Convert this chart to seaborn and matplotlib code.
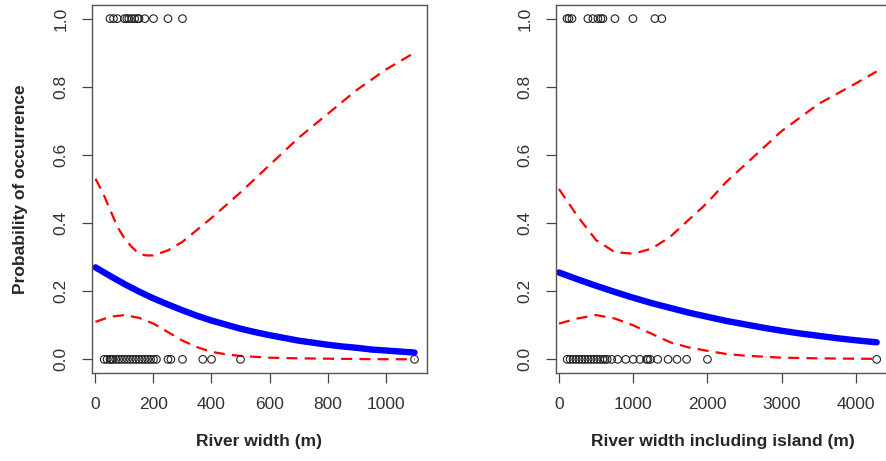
import matplotlib
matplotlib.use("Agg")
import matplotlib.pyplot as plt
import seaborn as sns
import pandas as pd

# ---------------- data ----------------
# Left panel: river width (m)
w_presence = [50, 62, 75, 100, 108, 115, 125, 135, 145, 150, 170, 200, 250, 300]
w_absence = [30, 40, 50, 55, 60, 70, 80, 90, 100, 110, 120, 130, 140, 150, 160,
             170, 180, 190, 200, 210, 250, 260, 300, 370, 400, 500, 1100]

w_fit_x = [0, 50, 100, 150, 200, 250, 300, 350, 400, 450, 500, 550, 600, 650,
           700, 750, 800, 850, 900, 950, 1000, 1050, 1100]
w_fit_y = [0.270, 0.245, 0.221, 0.199, 0.179, 0.161, 0.144, 0.128, 0.114, 0.102,
           0.090, 0.080, 0.071, 0.063, 0.055, 0.049, 0.043, 0.038, 0.034, 0.029,
           0.026, 0.023, 0.020]

w_up_x = [0, 25, 50, 75, 100, 125, 150, 175, 200, 250, 300, 350, 400, 500,
          600, 700, 800, 900, 1000, 1100]
w_up_y = [0.53, 0.49, 0.44, 0.39, 0.355, 0.33, 0.31, 0.305, 0.305, 0.32, 0.345,
          0.38, 0.415, 0.49, 0.57, 0.65, 0.72, 0.79, 0.85, 0.90]

w_lo_x = [0, 50, 100, 150, 200, 250, 300, 350, 400, 450, 500, 600, 700, 800,
          900, 1000, 1100]
w_lo_y = [0.11, 0.125, 0.13, 0.122, 0.105, 0.08, 0.055, 0.036, 0.022, 0.015,
          0.010, 0.005, 0.003, 0.002, 0.001, 0.0005, 0.0003]

# Right panel: river width including island (m)
i_presence = [108, 135, 175, 390, 457, 525, 565, 592, 754, 996, 1292, 1386]
i_absence = [110, 150, 190, 230, 270, 310, 350, 390, 430, 470, 510, 550, 590,
             620, 650, 710, 790, 900, 1000, 1090, 1180, 1200, 1230, 1330, 1470,
             1590, 1720, 2000, 4280]

i_fit_x = [0, 250, 500, 750, 1000, 1250, 1500, 1750, 2000, 2250, 2500, 2750,
           3000, 3250, 3500, 3750, 4000, 4280]
i_fit_y = [0.255, 0.235, 0.216, 0.198, 0.181, 0.165, 0.151, 0.137, 0.125, 0.113,
           0.103, 0.093, 0.084, 0.076, 0.069, 0.062, 0.056, 0.050]

i_up_x = [0, 125, 250, 500, 750, 1000, 1250, 1500, 1750, 2000, 2250, 2500,
          2750, 3000, 3250, 3500, 3750, 4000, 4280]
i_up_y = [0.50, 0.46, 0.42, 0.35, 0.315, 0.31, 0.325, 0.36, 0.41, 0.46, 0.52,
          0.57, 0.62, 0.67, 0.71, 0.75, 0.78, 0.81, 0.845]

i_lo_x = [0, 250, 500, 750, 1000, 1250, 1500, 1750, 2000, 2250, 2500, 2750,
          3000, 3500, 4000, 4280]
i_lo_y = [0.105, 0.12, 0.13, 0.12, 0.10, 0.075, 0.05, 0.035, 0.025, 0.016,
          0.011, 0.008, 0.005, 0.003, 0.002, 0.0015]

y_ticks = [0.0, 0.2, 0.4, 0.6, 0.8, 1.0]
y_tick_labels = ["0.0", "0.2", "0.4", "0.6", "0.8", "1.0"]
w_ticks = [0, 200, 400, 600, 800, 1000]
i_ticks = [0, 1000, 2000, 3000, 4000]

x_label_left = "River width (m)"
x_label_right = "River width including island (m)"
y_label = "Probability of occurrence"

# ---------------- style ----------------
sns.set_style("white")
plt.rcParams["font.family"] = ["Liberation Sans", "DejaVu Sans"]

fig = plt.figure(figsize=(8.86, 4.61), dpi=100)
W, H = 886, 461


def px_axes(x0, x1, y0, y1):
    return fig.add_axes([x0 / W, 1 - y1 / H, (x1 - x0) / W, (y1 - y0) / H])


ax1 = px_axes(92, 427, 5, 373)
ax2 = px_axes(556, 889, 5, 373)


def draw_panel(ax, pres, absn, fx, fy, ux, uy, lx, ly, xlim, xticks, xlabel):
    pts = pd.DataFrame({"x": list(pres) + list(absn),
                        "y": [1.0] * len(pres) + [0.0] * len(absn)})
    sns.scatterplot(data=pts, x="x", y="y", ax=ax, marker="o", s=30,
                    legend=False, zorder=3)
    coll = ax.collections[-1]
    coll.set_facecolor("none")
    coll.set_edgecolor("#222222")
    coll.set_linewidth(0.8)

    sns.lineplot(x=fx, y=fy, ax=ax, color="#0000ff", lw=4.6,
                 solid_capstyle="round", estimator=None, sort=False)
    for xx, yy in ((ux, uy), (lx, ly)):
        sns.lineplot(x=xx, y=yy, ax=ax, color="#ff0000", lw=1.6,
                     estimator=None, sort=False)
        ax.lines[-1].set_dashes((5, 3.2))

    ax.set_xlim(*xlim)
    ax.set_ylim(-0.04, 1.04)
    ax.set_xticks(xticks)
    ax.set_xticklabels([str(t) for t in xticks])
    ax.set_yticks(y_ticks)
    ax.set_yticklabels(y_tick_labels, rotation=90, va="center")
    ax.tick_params(axis="both", direction="out", length=7, width=0.9,
                   color="#444444", labelcolor="#333333", labelsize=12.5,
                   pad=10, left=True, bottom=True)
    for sp in ax.spines.values():
        sp.set_visible(True)
        sp.set_color("#555555")
        sp.set_linewidth(1.0)
    ax.set_xlabel(xlabel, fontsize=12.5, fontweight="bold", labelpad=16)
    ax.set_ylabel("")


draw_panel(ax1, w_presence, w_absence, w_fit_x, w_fit_y, w_up_x, w_up_y,
           w_lo_x, w_lo_y, (-12, 1143), w_ticks, x_label_left)
draw_panel(ax2, i_presence, i_absence, i_fit_x, i_fit_y, i_up_x, i_up_y,
           i_lo_x, i_lo_y, (-40, 4446), i_ticks, x_label_right)

ax1.set_ylabel(y_label, fontsize=12.5, fontweight="bold", labelpad=18)

fig.savefig("out.png", dpi=100)
